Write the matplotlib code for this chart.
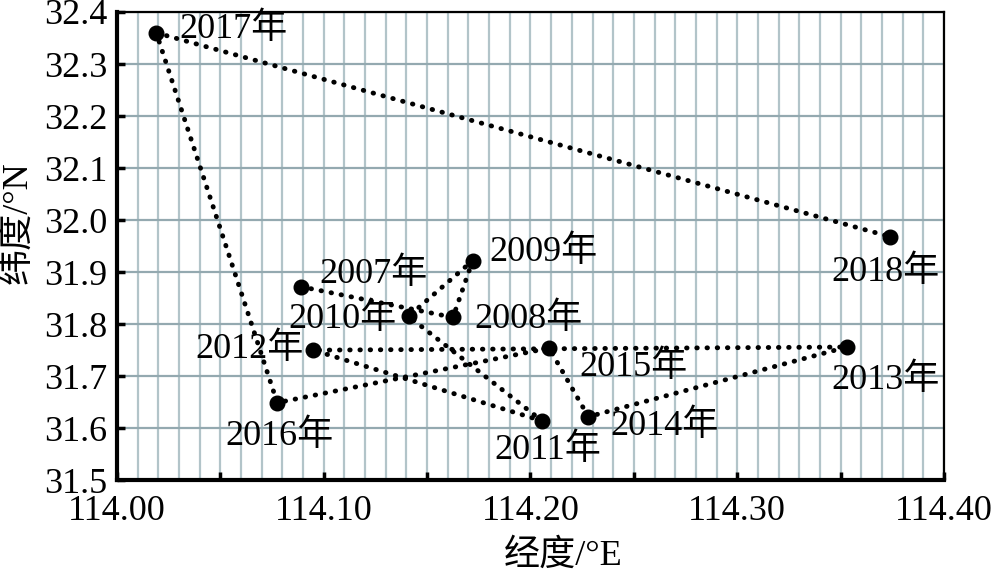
import numpy as np
import matplotlib
matplotlib.use("Agg")
import matplotlib.pyplot as plt
from matplotlib.ticker import MultipleLocator, FuncFormatter

# Data
# -----------------------------------------------------------------------------
years = ["2007年", "2008年", "2009年", "2010年", "2011年", "2012年",
         "2013年", "2014年", "2015年", "2016年", "2017年", "2018年"]
lon = [114.089, 114.1625, 114.172, 114.141, 114.2056, 114.095,
       114.353, 114.228, 114.209, 114.0775, 114.019, 114.374]
lat = [31.872, 31.813, 31.922, 31.815, 31.614, 31.750,
       31.756, 31.622, 31.754, 31.649, 32.360, 31.968]

# label offsets in pixels (dx, dy, ha, va)
label_pos = {
    "2007年": (18, 12, "left", "center"),
    "2008年": (21, -2, "left", "center"),
    "2009年": (17, 8, "left", "center"),
    "2010年": (-12, -3, "right", "center"),
    "2011年": (6, -29, "center", "center"),
    "2012年": (-10, 1, "right", "center"),
    "2013年": (-15, -33, "left", "center"),
    "2014年": (22, -10, "left", "center"),
    "2015年": (30, -19, "left", "center"),
    "2016年": (2, -34, "center", "center"),
    "2017年": (23, 4, "left", "center"),
    "2018年": (-5, -36, "center", "center"),
}

fonts = ["Liberation Serif", "Noto Sans CJK SC", "DejaVu Sans"]
plt.rcParams["font.family"] = fonts
plt.rcParams["font.size"] = 26

# Plot
# -----------------------------------------------------------------------------
fig = plt.figure(figsize=(10, 5.71), dpi=100)
ax = fig.add_axes([0.117, 0.159, 0.827, 0.82])

ax.plot(lon, lat, color="black", linestyle=(0, (0.1, 2)), linewidth=3.5,
        dash_capstyle="round", marker="o", markersize=10.5, zorder=3)

for x, y, name in zip(lon, lat, years):
    dx, dy, ha, va = label_pos[name]
    ax.annotate(name, (x, y), xytext=(dx, dy), textcoords="offset pixels",
                ha=ha, va=va, fontsize=26, zorder=4)

ax.set_xlim(114.0, 114.4)
ax.set_ylim(31.5, 32.4)

ax.xaxis.set_major_locator(MultipleLocator(0.05))
ax.xaxis.set_minor_locator(MultipleLocator(0.01))
ax.xaxis.set_major_formatter(FuncFormatter(
    lambda v, p: f"{v:.2f}" if round(v * 100) % 10 == 0 else ""))
ax.yaxis.set_major_locator(MultipleLocator(0.1))
ax.yaxis.set_major_formatter(FuncFormatter(lambda v, p: f"{v:.1f}"))

ax.tick_params(axis="both", which="major", direction="in", length=6,
               width=2.5, labelsize=26, color="black")
ax.tick_params(axis="x", which="major", pad=11)
ax.tick_params(axis="y", which="major", pad=7)
ax.tick_params(axis="x", which="minor", length=0)

ax.grid(axis="x", which="both", color="#b2c4c9", linewidth=1.6)
ax.grid(axis="y", which="major", color="#94a9b0", linewidth=1.6)
ax.set_axisbelow(True)

for side in ["left", "bottom"]:
    ax.spines[side].set_linewidth(3)
for side in ["top", "right"]:
    ax.spines[side].set_linewidth(1.6)

ax.set_xlabel("经度/°E", fontsize=26)
ax.xaxis.set_label_coords(0.54, -0.125)
ax.set_ylabel("纬度/°N", fontsize=26)
ax.yaxis.set_label_coords(-0.1, 0.55)

fig.savefig("out.png", dpi=100)
